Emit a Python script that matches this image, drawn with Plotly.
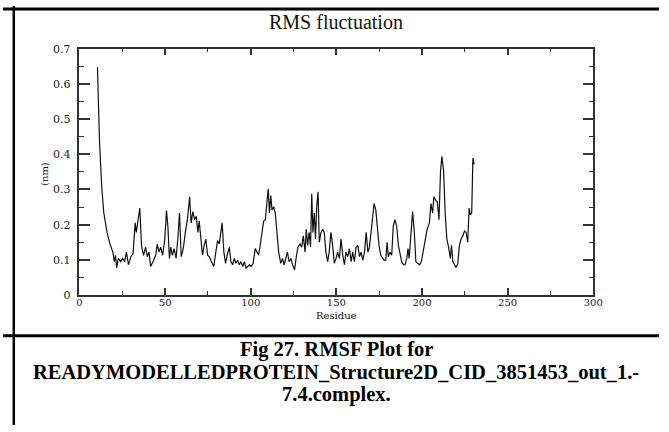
import plotly.graph_objects as go

# ---- data ----
residue = [10.5, 11.7, 13.0, 14.2, 16.1, 17.8, 19.5, 20.3, 21.0, 21.7, 22.7, 24.0, 25.2, 26.4, 27.4, 28.6,
           30.0, 31.3, 32.5, 33.2, 34.2, 35.2, 36.2, 37.4, 38.6, 39.6, 40.6, 41.5, 43.0, 44.5, 45.4, 46.4,
           47.4, 48.6, 49.8, 50.8, 51.6, 52.5, 53.3, 54.2, 55.2, 56.4, 57.4, 58.4, 59.4, 60.6, 61.8, 63.0,
           64.3, 65.2, 66.2, 67.2, 68.2, 69.1, 69.9, 70.9, 71.8, 72.8, 73.8, 74.8, 75.8, 77.0, 78.4, 79.6,
           80.6, 81.6, 82.6, 83.3, 84.3, 85.3, 86.2, 87.5, 88.4, 89.4, 90.4, 91.4, 92.3, 93.3, 94.3, 95.3,
           96.3, 97.2, 98.2, 99.2, 100.2, 101.4, 102.6, 103.6, 104.6, 105.5, 106.5, 107.5, 108.5, 109.5,
           110.2, 110.9, 111.7, 112.4, 113.4, 114.3, 115.3, 116.3, 117.5, 118.5, 119.5, 120.5, 121.4, 122.4,
           123.4, 124.4, 125.6, 126.6, 127.5, 128.8, 129.7, 130.7, 131.7, 132.4, 133.2, 134.1, 134.9, 135.6,
           136.3, 137.1, 137.8, 138.5, 139.3, 140.0, 141.0, 142.0, 142.9, 143.9, 144.9, 145.8, 146.8, 147.8,
           148.8, 149.8, 150.7, 151.7, 152.7, 153.7, 154.7, 155.6, 156.6, 157.6, 158.6, 159.5, 160.5, 161.5,
           162.5, 163.5, 164.4, 165.4, 166.4, 167.4, 168.4, 169.3, 170.3, 171.3, 172.0, 173.0, 174.0, 174.9,
           175.9, 176.9, 177.8, 178.8, 179.6, 180.3, 181.3, 182.3, 183.2, 184.2, 185.2, 186.2, 187.2, 188.1,
           189.1, 190.1, 191.1, 191.8, 192.5, 193.5, 194.5, 195.5, 196.4, 197.4, 198.6, 199.6, 200.6, 201.8,
           203.0, 204.3, 205.2, 206.2, 206.9, 207.9, 208.9, 209.9, 210.8, 211.6, 212.6, 213.5, 214.5, 215.5,
           216.5, 217.2, 218.0, 218.9, 219.9, 220.9, 221.8, 222.8, 223.8, 224.8, 225.7, 226.7, 227.5, 228.2,
           229.0, 229.7, 230.4]
rmsf_nm = [0.647, 0.435, 0.306, 0.233, 0.178, 0.145, 0.122, 0.095, 0.113, 0.078, 0.104, 0.095, 0.104, 0.095, 0.122, 0.086,
           0.109, 0.118, 0.205, 0.178, 0.214, 0.247, 0.141, 0.113, 0.136, 0.109, 0.122, 0.081, 0.095, 0.113, 0.145, 0.122,
           0.136, 0.113, 0.159, 0.240, 0.196, 0.104, 0.136, 0.113, 0.132, 0.104, 0.159, 0.233, 0.109, 0.132, 0.178, 0.214,
           0.279, 0.205, 0.237, 0.214, 0.224, 0.178, 0.210, 0.159, 0.113, 0.141, 0.159, 0.113, 0.109, 0.095, 0.081, 0.122,
           0.155, 0.145, 0.187, 0.205, 0.122, 0.090, 0.113, 0.136, 0.095, 0.086, 0.104, 0.090, 0.099, 0.086, 0.095, 0.081,
           0.095, 0.076, 0.081, 0.086, 0.081, 0.090, 0.132, 0.122, 0.113, 0.141, 0.178, 0.210, 0.214, 0.279,
           0.302, 0.233, 0.283, 0.242, 0.251, 0.233, 0.178, 0.122, 0.090, 0.104, 0.086, 0.109, 0.122, 0.095,
           0.104, 0.086, 0.072, 0.109, 0.136, 0.145, 0.136, 0.168, 0.122, 0.187, 0.141, 0.178, 0.136, 0.288,
           0.178, 0.233, 0.159, 0.251, 0.293, 0.150, 0.178, 0.187, 0.178, 0.122, 0.095, 0.122, 0.178, 0.141,
           0.090, 0.104, 0.122, 0.104, 0.159, 0.113, 0.086, 0.122, 0.109, 0.132, 0.095, 0.122, 0.095, 0.136,
           0.141, 0.109, 0.122, 0.099, 0.122, 0.178, 0.122, 0.136, 0.178, 0.224, 0.260, 0.242, 0.187, 0.141,
           0.113, 0.104, 0.099, 0.099, 0.150, 0.109, 0.122, 0.113, 0.196, 0.214, 0.196, 0.141, 0.113, 0.095,
           0.086, 0.086, 0.104, 0.132, 0.104, 0.187, 0.237, 0.178, 0.095, 0.090, 0.086, 0.095, 0.122, 0.159,
           0.187, 0.205, 0.260, 0.233, 0.279, 0.270, 0.265, 0.214, 0.352, 0.394, 0.352, 0.233, 0.159, 0.136,
           0.104, 0.141, 0.095, 0.086, 0.078, 0.090, 0.141, 0.159, 0.168, 0.182, 0.178, 0.150, 0.247, 0.228,
           0.233, 0.389, 0.371]

chart_title = "RMS fluctuation"
x_title = "Residue"
y_title = "(nm)"
caption_lines = ["Fig 27. RMSF Plot for",
                 "READYMODELLEDPROTEIN_Structure2D_CID_3851453_out_1.-",
                 "7.4.complex."]

W, H = 669, 432

def px(x):
    return x / W

def py(y):
    return 1 - y / H

fig = go.Figure()
fig.add_trace(go.Scatter(x=residue, y=rmsf_nm, mode="lines",
                         line=dict(color="#111111", width=1.2),
                         hoverinfo="skip", showlegend=False))

fig.update_layout(
    width=W, height=H,
    margin=dict(l=0, r=0, t=0, b=0),
    paper_bgcolor="white", plot_bgcolor="white",
    showlegend=False,
    xaxis=dict(domain=[px(78), px(602)], range=[0, 300], dtick=50,
               showgrid=False, zeroline=False, showline=True, linecolor="#333333", linewidth=1.5,
               mirror="ticks", ticks="inside", ticklen=7, tickwidth=1.5, tickcolor="#333333",
               minor=dict(dtick=25, ticks="inside", ticklen=4, tickwidth=1.2, tickcolor="#333333", showgrid=False),
               tickfont=dict(family="DejaVu Serif", size=10, color="#1a1a1a"), ticklabelstandoff=-3),
    yaxis=dict(domain=[py(298), py(44)], range=[0, 0.7], dtick=0.1,
               showgrid=False, zeroline=False, showline=True, linecolor="#333333", linewidth=1.5,
               mirror="ticks", ticks="inside", ticklen=11, tickwidth=1.5, tickcolor="#333333",
               minor=dict(dtick=0.05, ticks="inside", ticklen=5, tickwidth=1.2, tickcolor="#333333", showgrid=False),
               tickfont=dict(family="DejaVu Serif", size=11, color="#1a1a1a"), ticklabelstandoff=5),
)

annots = [
    dict(text=chart_title, x=px(340), y=py(17), font=dict(family="Liberation Serif", size=20, color="#111111")),
    dict(text=x_title, x=px(340), y=py(319), font=dict(family="DejaVu Serif", size=10, color="#111111")),
    dict(text=y_title, x=px(43), y=py(173), textangle=-90, font=dict(family="DejaVu Serif", size=10, color="#111111")),
]
for i, (line, yc) in enumerate(zip(caption_lines, [354.5, 377.5, 400.5])):
    annots.append(dict(text="<b>%s</b>" % line, x=px(340), y=py(yc),
                       font=dict(family="Liberation Serif", size=20.5, color="#000000")))
for a in annots:
    a.update(xref="paper", yref="paper", xanchor="center", yanchor="middle", showarrow=False)
fig.update_layout(annotations=annots)

# table-like frame lines
shapes = [
    dict(type="line", x0=0, x1=1, y0=py(3), y1=py(3), line=dict(color="black", width=3)),
    dict(type="line", x0=0, x1=1, y0=py(340), y1=py(340), line=dict(color="black", width=3)),
    dict(type="line", x0=px(11), x1=px(11), y0=0, y1=1, line=dict(color="black", width=2.5)),
]
for s in shapes:
    s.update(xref="paper", yref="paper", layer="above")
fig.update_layout(shapes=shapes)

fig.write_html("out.html", config={"displayModeBar": False},
               post_script="document.body.style.margin='0';document.body.style.padding='0';document.body.style.overflow='hidden';")
